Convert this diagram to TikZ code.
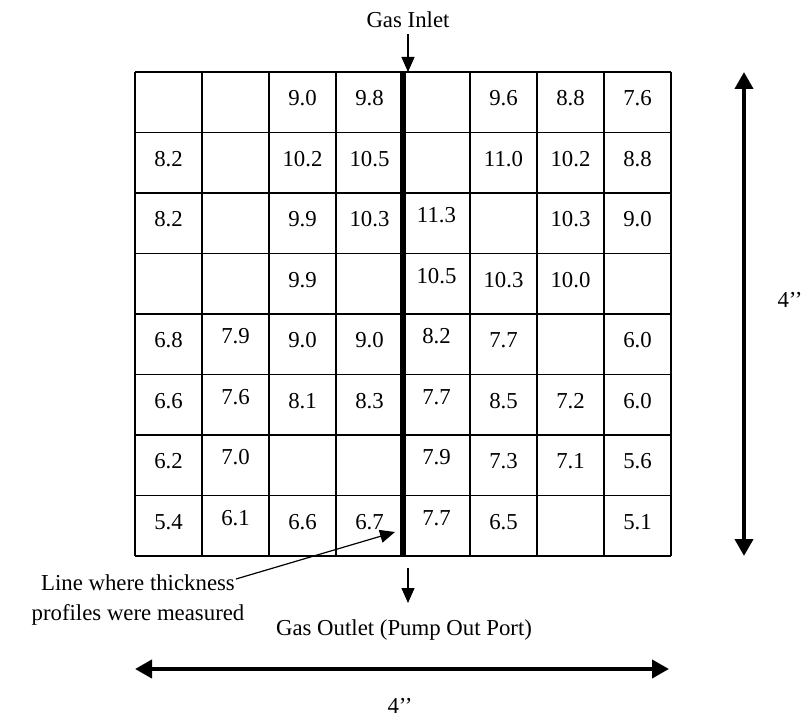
\documentclass[tikz,border=0pt]{standalone}
\usepackage{fontspec}
\setmainfont{Liberation Serif}
\usetikzlibrary{arrows.meta,positioning}

\begin{document}
\begin{tikzpicture}[x=0.5pt,y=-0.5pt,>={Triangle[length=7.5pt,width=6.5pt]}]
        \tikzstyle{val}=[inner sep=0pt,font=\fontsize{11.4}{15}\selectfont]
        \tikzstyle{lbl}=[inner sep=0pt,align=center,font=\fontsize{11.4}{15}\selectfont]
        \tikzstyle{cellline}=[line width=0.6pt]
        \tikzstyle{profile}=[line width=3pt]
        \tikzstyle{flow}=[line width=0.6pt,->]
        \tikzstyle{dim}=[line width=2pt,{Triangle[length=8.5pt,width=9pt]}-{Triangle[length=8.5pt,width=9pt]}]
        \useasboundingbox (0,0) rectangle (809,717);
        \begin{scope}
        \foreach \i in {0,...,8}
            \draw[cellline] (135+67*\i,72) -- (135+67*\i,556);
        \foreach \j in {0,...,8}
            \draw[cellline] (135,72+60.5*\j) -- (671,72+60.5*\j);
        \foreach \c/\r/\v [evaluate=\c as \dy using {(\c==2||\c==5)?-8:-4}] in
            {3/1/9.0,4/1/9.8,6/1/9.6,7/1/8.8,8/1/7.6,
             1/2/8.2,3/2/10.2,4/2/10.5,6/2/11.0,7/2/10.2,8/2/8.8,
             1/3/8.2,3/3/9.9,4/3/10.3,5/3/11.3,7/3/10.3,8/3/9.0,
             3/4/9.9,5/4/10.5,6/4/10.3,7/4/10.0,
             1/5/6.8,2/5/7.9,3/5/9.0,4/5/9.0,5/5/8.2,6/5/7.7,8/5/6.0,
             1/6/6.6,2/6/7.6,3/6/8.1,4/6/8.3,5/6/7.7,6/6/8.5,7/6/7.2,8/6/6.0,
             1/7/6.2,2/7/7.0,5/7/7.9,6/7/7.3,7/7/7.1,8/7/5.6,
             1/8/5.4,2/8/6.1,3/8/6.6,4/8/6.7,5/8/7.7,6/8/6.5,8/8/5.1}
            \node[val] (v\r\c) at (67*\c+101.5,60.5*\r+41.75+\dy) {\v};
        \end{scope}
        \coordinate (mtop) at (403,72);
        \coordinate (mbot) at (403,556);
        \draw[profile] (mtop) -- (mbot);
        \node[lbl] (inlet) at (408,20) {Gas Inlet};
        \coordinate (inend) at (408,72);
        \draw[flow] ([yshift=-3pt]inlet.south) -- (inend);
        \coordinate (outtop) at (408,568);
        \coordinate (outend) at (408,603);
        \draw[flow] (outtop) -- (outend);
        \node[lbl] (outlet) at (404,630) {Gas Outlet (Pump Out Port)};
        \node[lbl] (where) at (138,600) {Line where thickness\\profiles were measured};
        \coordinate (pstart) at (236,579);
        \coordinate (ptip) at (395,532);
        \draw[flow] (pstart) -- (ptip);
        \coordinate (vtop) at (744,72);
        \coordinate (vbot) at (744,556);
        \draw[dim] (vtop) -- (vbot);
        \node[lbl] (vlen) at (790,300) {4’’};
        \coordinate (hleft) at (135,669);
        \coordinate (hright) at (669,669);
        \draw[dim] (hleft) -- (hright);
        \node[lbl] (hlen) at (400,706) {4’’};
\end{tikzpicture}
\end{document}
